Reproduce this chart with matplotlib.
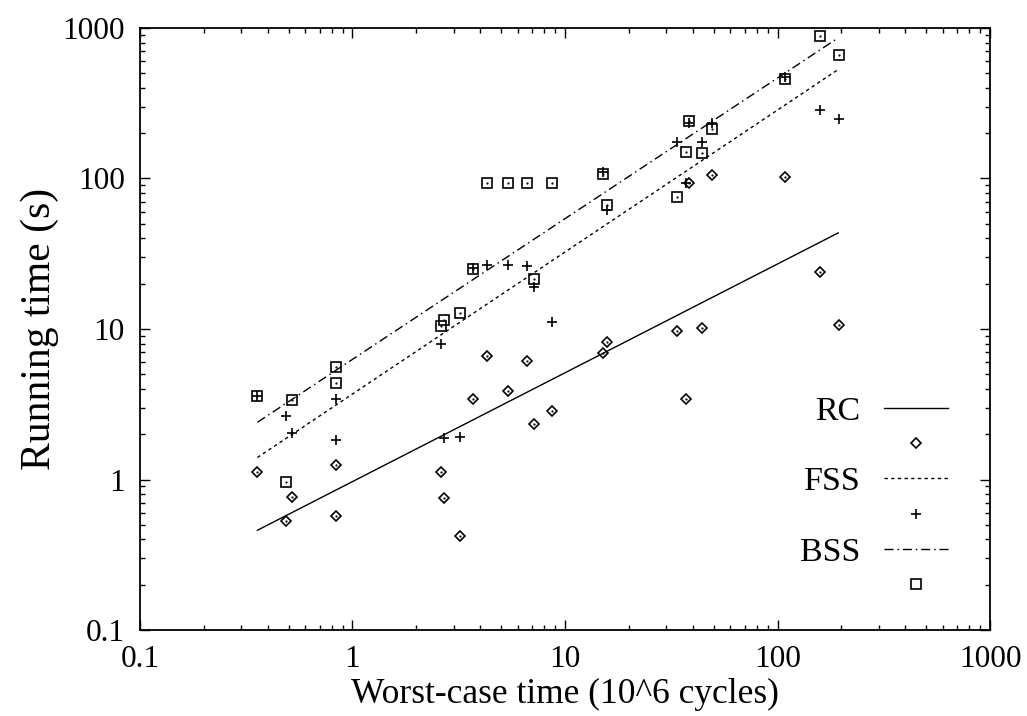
import numpy
from matplotlib import pyplot
from matplotlib import ticker

pyplot.rcParams['font.family'] = ['Liberation Serif', 'DejaVu Serif']

# worst-case time per benchmark (10^6 cycles)
worst_case = [0.357, 0.487, 0.518, 0.836, 0.836, 2.60, 2.69, 3.20,
              3.70, 4.30, 5.38, 6.62, 7.13, 8.72, 15.1, 15.7,
              33.6, 37.0, 38.2, 44.2, 49.3, 108.5, 158.0, 194.0]

# running times (s)
rc_time = [1.13, 0.53, 0.77, 1.24, 0.57, 1.13, 0.75, 0.42,
           3.45, 6.6, 3.9, 6.1, 2.32, 2.85, 6.9, 8.2,
           9.7, 3.45, 93.0, 10.2, 105.0, 102.0, 24.0, 10.6]
fss_time = [3.6, 2.65, 2.03, 3.45, 1.82, 7.9, 1.88, 1.92,
            25.5, 26.5, 26.5, 26.2, 19.0, 11.2, 110.0, 62.0,
            175.0, 94.0, 232.0, 175.0, 235.0, 475.0, 285.0, 250.0]
bss_time = [3.6, 0.96, 3.35, 5.6, 4.35, 10.4, 11.4, 12.8,
            25.0, 94.0, 94.0, 93.0, 21.5, 94.0, 107.0, 67.0,
            75.0, 150.0, 240.0, 147.0, 213.0, 455.0, 880.0, 660.0]

# fitted lines, end points
fit_x = [0.357, 193.0]
rc_fit = [0.46, 43.5]
fss_fit = [1.40, 530.0]
bss_fit = [2.40, 860.0]

fig = pyplot.figure(figsize=(10.27, 7.16), dpi=100)
ax = fig.add_axes([0.1363, 0.1201, 0.8277, 0.8408])

lw = 1.0
ax.plot(fit_x, rc_fit, color='black', lw=lw, label='RC')
ax.plot(worst_case, rc_time, ls='none', marker='D', ms=5.4, mfc='none',
        mec='black', mew=1.2, label=' ')
ax.plot(fit_x, fss_fit, color='black', lw=lw, dashes=(2.4, 2.4), label='FSS')
ax.plot(worst_case, fss_time, ls='none', marker='+', ms=7, mec='black',
        mew=1.2, label=' ')
ax.plot(fit_x, bss_fit, color='black', lw=lw, dashes=(6.5, 2.8, 1.1, 2.8),
        label='BSS')
ax.plot(worst_case, bss_time, ls='none', marker='s', ms=7.5, mfc='none',
        mec='black', mew=1.2, label=' ')
# little dot in the middle of the open points
ax.plot(worst_case, rc_time, ls='none', marker='.', ms=1.2, color='black')
ax.plot(worst_case, bss_time, ls='none', marker='.', ms=1.2, color='black')

ax.set_xscale('log')
ax.set_yscale('log')
ax.set_xlim(0.1, 1000)
ax.set_ylim(0.1, 1000)

fmt = ticker.FuncFormatter(lambda v, pos: '%g' % v)
ax.xaxis.set_major_formatter(fmt)
ax.yaxis.set_major_formatter(fmt)
ax.xaxis.set_minor_formatter(ticker.NullFormatter())
ax.yaxis.set_minor_formatter(ticker.NullFormatter())
ax.tick_params(which='both', direction='in', top=True, right=True,
               labelsize=22.5, pad=11, width=1.0)
ax.tick_params(which='major', length=7)
ax.tick_params(which='minor', length=3.5)
for side in ax.spines.values():
    side.set_linewidth(1.3)

ax.set_xlabel('Worst-case time (10^6 cycles)', fontsize=25.5, labelpad=3)
ax.set_ylabel('Running time (s)', fontsize=30, labelpad=2)

leg = ax.legend(loc='lower right', bbox_to_anchor=(0.951, 0.045),
                markerfirst=False, frameon=False, fontsize=24.5,
                handlelength=1.9, handletextpad=0.68, labelspacing=0.13,
                borderpad=0, borderaxespad=0, numpoints=1)

pyplot.savefig('out.png')
